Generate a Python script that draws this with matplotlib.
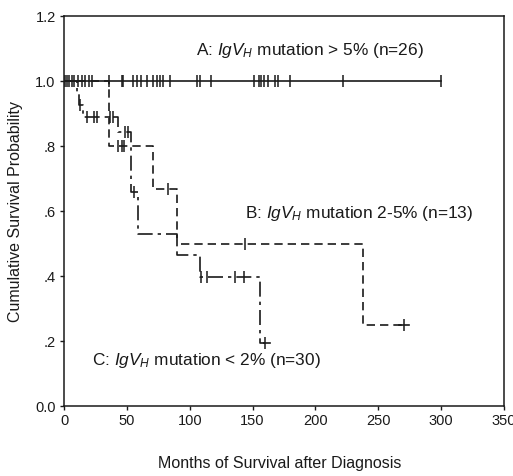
import matplotlib
matplotlib.use("Agg")
import matplotlib.pyplot as plt
import numpy as np

plt.rcParams['font.family'] = ['Liberation Sans', 'DejaVu Sans']
plt.rcParams['mathtext.fontset'] = 'custom'
plt.rcParams['mathtext.rm'] = 'Liberation Sans'
plt.rcParams['mathtext.it'] = 'Liberation Sans:italic'

# Group A: IgVH mutation > 5% (no events)
A_times = [0, 300]
A_surv = [1.0, 1.0]
A_censor = [1, 2, 4, 6, 8, 11, 14, 17, 20, 22, 36, 46, 47, 55, 58, 61, 66, 71, 74,
            76, 79, 84, 106, 108, 117, 151, 155, 157, 159, 162, 168, 170, 180, 222, 300]

# Group B: IgVH mutation 2-5%
B_times = [0, 36, 70.5, 90, 238, 270.5]
B_surv = [1.0, 0.80, 0.667, 0.50, 0.25, 0.25]
B_censor = [43, 46, 48, 83, 144, 270.5]

# Group C: IgVH mutation < 2%
C_times = [0, 10, 12, 15, 43, 53, 59, 90, 108, 156, 160]
C_surv = [1.0, 0.963, 0.926, 0.889, 0.845, 0.659, 0.53, 0.465, 0.396, 0.193, 0.193]
C_censor = [13, 18, 24, 26, 36.5, 39, 48.5, 50.5, 56, 109, 114, 136, 143, 160]

x_ticks = [0, 50, 100, 150, 200, 250, 300, 350]
y_ticks = [0.0, 0.2, 0.4, 0.6, 0.8, 1.0, 1.2]
y_ticklabels = ['0.0', '.2', '.4', '.6', '.8', '1.0', '1.2']


def surv_at(times, surv, t):
    idx = np.searchsorted(np.asarray(times), t, side='right') - 1
    return np.asarray(surv)[idx]


fig = plt.figure(figsize=(5.13, 4.76), dpi=100)
ax = fig.add_axes([0.1248, 0.147, 0.8577, 0.819])

col = '#1a1a1a'
lw = 1.2
ax.plot(A_times, A_surv, drawstyle='steps-post', color=col, lw=lw)
ax.plot(A_censor, [surv_at(A_times, A_surv, t) for t in A_censor], linestyle='none',
        marker='|', markersize=9, markeredgewidth=1.1, color=col)

ax.plot(B_times, B_surv, drawstyle='steps-post', color=col, lw=lw, dashes=(5, 3))
ax.plot(B_censor, [surv_at(B_times, B_surv, t) for t in B_censor], linestyle='none',
        marker='|', markersize=9, markeredgewidth=1.1, color=col)
ax.plot([B_censor[-1] - 4, B_censor[-1] + 4], [B_surv[-1]] * 2, color=col, lw=lw)

ax.plot(C_times, C_surv, drawstyle='steps-post', color=col, lw=lw, dashes=(9, 3, 2, 3))
ax.plot(C_censor, [surv_at(C_times, C_surv, t) for t in C_censor], linestyle='none',
        marker='|', markersize=9, markeredgewidth=1.1, color=col)
ax.plot([C_censor[-1] - 1, C_censor[-1] + 4], [C_surv[-1]] * 2, color=col, lw=lw)

ax.text(105, 1.095, r'A: $\mathit{IgV}_{\mathit{H}}$ mutation > 5% (n=26)',
        fontsize=12.4, va='center', ha='left', color=col)
ax.text(144, 0.594, r'B: $\mathit{IgV}_{\mathit{H}}$ mutation 2-5% (n=13)',
        fontsize=12.4, va='center', ha='left', color=col)
ax.text(22, 0.14, r'C: $\mathit{IgV}_{\mathit{H}}$ mutation < 2% (n=30)',
        fontsize=12.4, va='center', ha='left', color=col)

ax.set_xlim(0, 350)
ax.set_ylim(0, 1.2)
ax.set_xticks(x_ticks)
ax.set_xticklabels([str(v) for v in x_ticks])
ax.set_yticks(y_ticks)
ax.set_yticklabels(y_ticklabels)
ax.tick_params(direction='out', length=3, width=1, labelsize=10.5, colors=col, pad=3)
for s in ax.spines.values():
    s.set_linewidth(1.1)
    s.set_color(col)

ax.set_ylabel('Cumulative Survival Probability', fontsize=11.5, color=col, labelpad=9)
fig.text(0.545, 0.027, 'Months of Survival after Diagnosis', fontsize=11.5,
         ha='center', va='center', color=col)

fig.savefig('out.png', dpi=100)
